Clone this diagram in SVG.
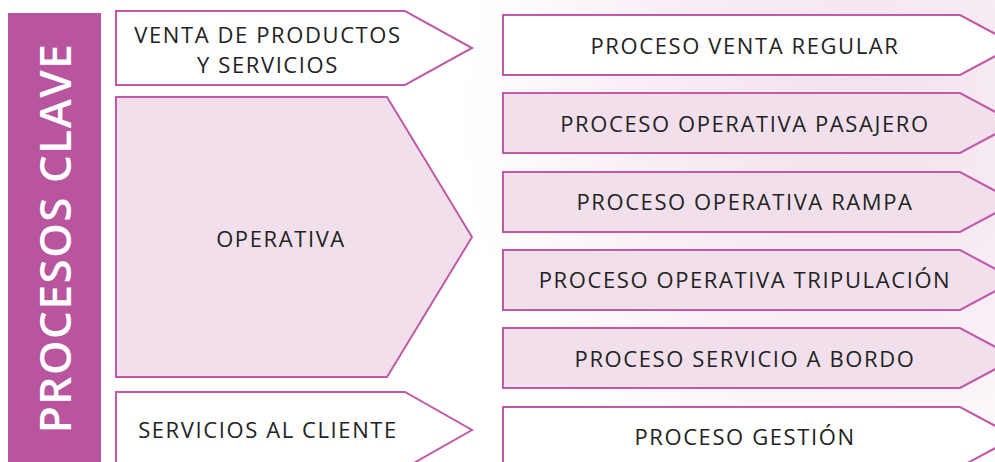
<svg xmlns="http://www.w3.org/2000/svg" width="995" height="462" viewBox="0 0 995 462">
<defs>
<radialGradient id="bg" cx="860" cy="120" r="400" gradientUnits="userSpaceOnUse">
<stop offset="0" stop-color="#f2e2ed"/>
<stop offset="0.55" stop-color="#f8eef5"/>
<stop offset="1" stop-color="#ffffff"/>
</radialGradient>
<style>
.box{stroke:#c05aa8;stroke-width:2;stroke-linejoin:miter}
.w{fill:#ffffff}
.p{fill:#f1e0ec}
.t{font-family:"Open Sans","Noto Sans",sans-serif;font-size:22px;fill:#222222;text-anchor:middle;letter-spacing:1.6px}
.v{font-family:"Open Sans","Noto Sans",sans-serif;font-size:44px;font-weight:600;fill:#ffffff;text-anchor:middle;letter-spacing:1.5px}
</style>
</defs>
<rect x="0" y="0" width="995" height="462" fill="url(#bg)"/>
<g id="bar">
<rect x="8" y="13" width="93" height="460" fill="#b9549f"/>
<text class="v" transform="translate(71,238) rotate(-90)">PROCESOS CLAVE</text>
</g>
<g id="venta">
<polygon class="box w" points="116,11 405,11 472,48 405,85 116,85"/>
<text class="t" x="268" y="43">VENTA DE PRODUCTOS</text>
<text class="t" x="268" y="73">Y SERVICIOS</text>
</g>
<g id="operativa">
<polygon class="box p" points="116,97 387,97 472,237 387,377 116,377"/>
<text class="t" x="281" y="247">OPERATIVA</text>
</g>
<g id="servicios">
<polygon class="box w" points="116,392 405,392 472,430 405,468 116,468"/>
<text class="t" x="268" y="438">SERVICIOS AL CLIENTE</text>
</g>
<g id="r1">
<polygon class="box w" points="503,15 960,15 1016,45 960,75 503,75"/>
<text class="t" x="745" y="54">PROCESO VENTA REGULAR</text>
</g>
<g id="r2">
<polygon class="box p" points="503,93 960,93 1016,123 960,153 503,153"/>
<text class="t" x="745" y="132">PROCESO OPERATIVA PASAJERO</text>
</g>
<g id="r3">
<polygon class="box p" points="503,172 960,172 1016,202 960,232 503,232"/>
<text class="t" x="745" y="210">PROCESO OPERATIVA RAMPA</text>
</g>
<g id="r4">
<polygon class="box p" points="503,250 960,250 1016,280 960,310 503,310"/>
<text class="t" x="745" y="288">PROCESO OPERATIVA TRIPULACIÓN</text>
</g>
<g id="r5">
<polygon class="box p" points="503,328 960,328 1016,358 960,388 503,388"/>
<text class="t" x="745" y="367">PROCESO SERVICIO A BORDO</text>
</g>
<g id="r6">
<polygon class="box w" points="503,407 960,407 1016,437 960,467 503,467"/>
<text class="t" x="745" y="445">PROCESO GESTIÓN</text>
</g>
<g id="connectors"></g>
</svg>
